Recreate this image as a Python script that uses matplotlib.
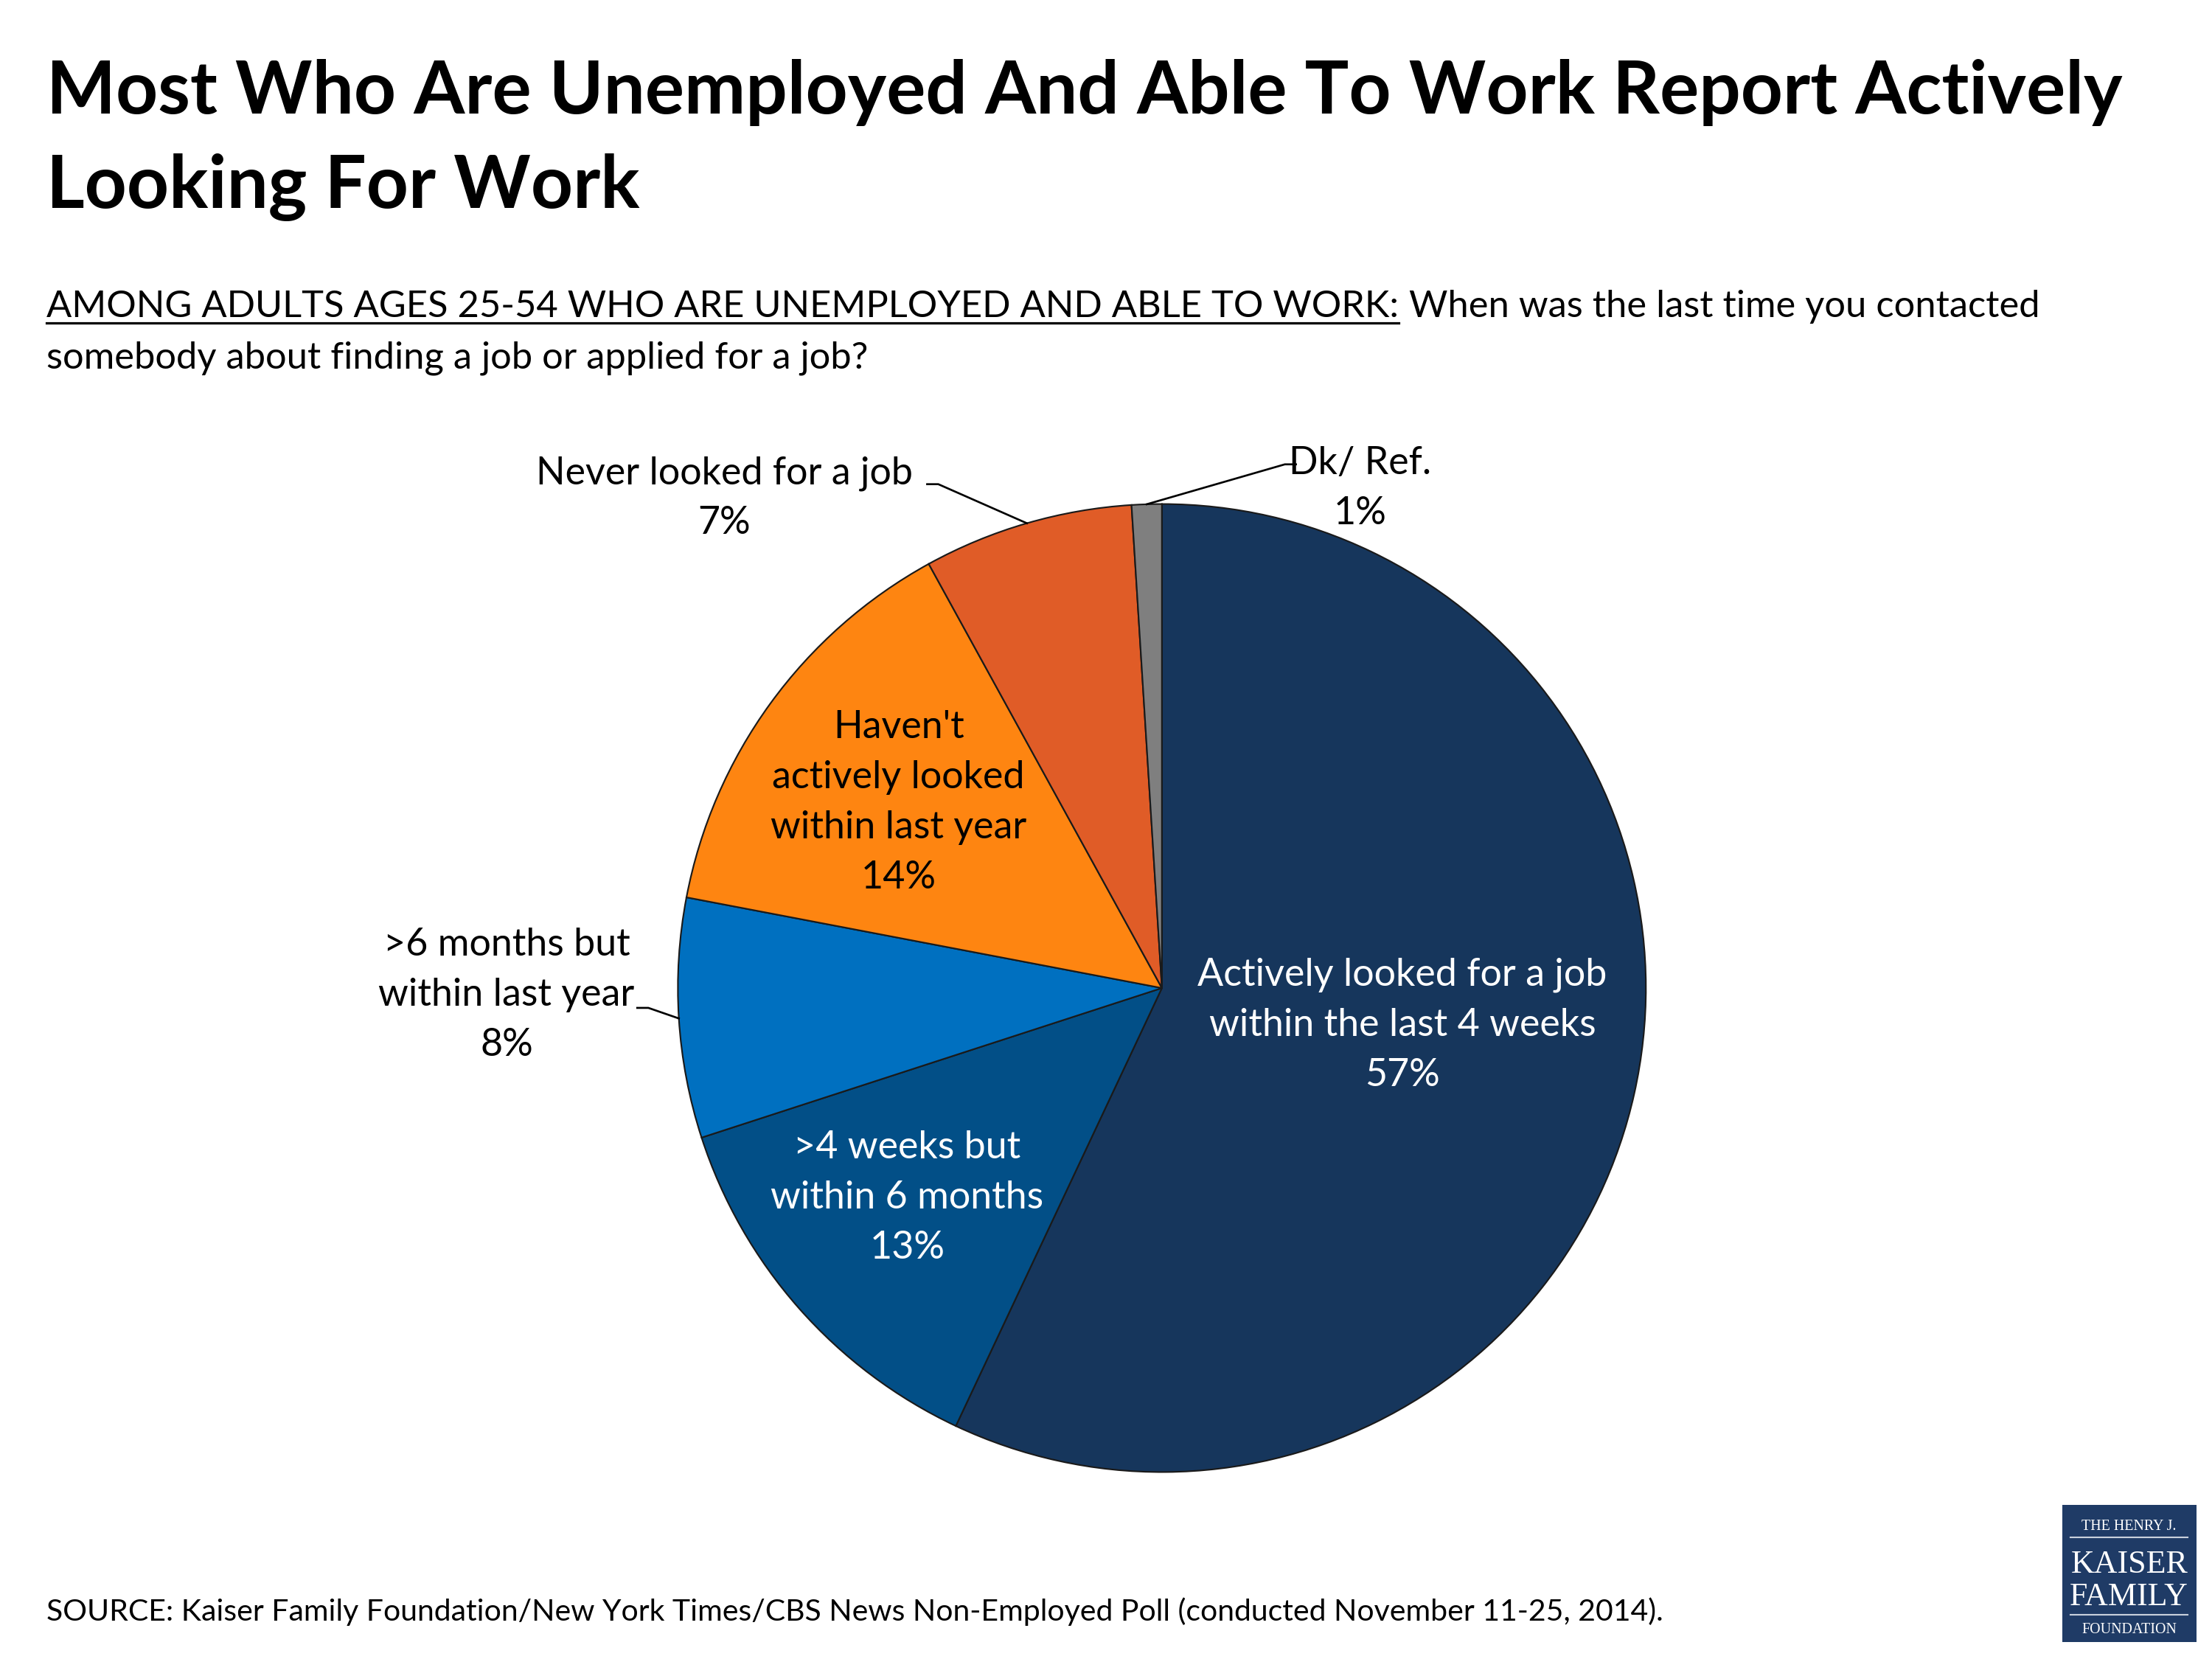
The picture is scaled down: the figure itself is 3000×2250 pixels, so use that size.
import numpy as np
import matplotlib
matplotlib.use("Agg")
import matplotlib.pyplot as plt
from matplotlib.patches import Rectangle

plt.rcParams['font.family'] = ['Lato', 'DejaVu Sans']

# data
categories = ["Actively looked for a job\nwithin the last 4 weeks",
              ">4 weeks but\nwithin 6 months",
              ">6 months but\nwithin last year",
              "Haven't\nactively looked\nwithin last year",
              "Never looked for a job",
              "Dk/ Ref."]
values = [57, 13, 8, 14, 7, 1]
colors = ['#16365C', '#024F87', '#0070C0', '#FE8511', '#E05C27', '#7F7F7F']
text_colors = ['white', 'white', 'black', 'black', 'black', 'black']

# label layout (pie data units, radius 1)
label_pos = [(0.497, -0.076), (-0.526, -0.433), (-1.354, -0.015),
             (-0.544, 0.383), (-0.904, 1.012), (0.41, 1.032)]
# elbow of leader line (None = label inside slice)
elbows = [None, None, (-1.061, -0.041), None, (-0.462, 1.041), (0.254, 1.082)]
elbow_dir = [0, 0, -1, 0, -1, 1]

W, H = 1563.0, 1172.0   # layout units (1 unit = 1/100 in)
fig = plt.figure(figsize=(15.625, 11.71875), dpi=192)


def fx(x):
    return x / W


def fy(y):
    return 1 - y / H


# pie axes: centre (821, 698), radius 342
cx, cy, r = 821, 698, 342
ax = fig.add_axes([fx(cx - r), fy(cy + r), 2 * r / W, 2 * r / H])
wedges, _ = ax.pie(values, colors=colors, startangle=90, counterclock=False,
                   wedgeprops=dict(edgecolor='#1a1a1a', linewidth=0.8))
ax.set_xlim(-1, 1)
ax.set_ylim(-1, 1)
ax.set_aspect('equal')
ax.axis('off')

for i, w in enumerate(wedges):
    txt = categories[i] + "\n" + str(values[i]) + "%"
    x, y = label_pos[i]
    ax.text(x, y, txt, ha='center', va='center', fontsize=19.5,
            color=text_colors[i], linespacing=1.55, clip_on=False)
    if elbows[i] is not None:
        mid = np.deg2rad((w.theta1 + w.theta2) / 2)
        ex, ey = elbows[i]
        px, py = np.cos(mid), np.sin(mid)
        ax.plot([ex + elbow_dir[i] * 0.023, ex, px], [ey, ey, py],
                color='black', lw=1.0, clip_on=False, solid_joinstyle='miter')

# title
fig.text(fx(33), fy(80), "Most Who Are Unemployed And Able To Work Report Actively",
         fontsize=37.3, fontweight='bold', ha='left', va='baseline')
fig.text(fx(33), fy(147), "Looking For Work",
         fontsize=37.3, fontweight='bold', ha='left', va='baseline')

# subtitle with underlined lead-in
lead = fig.text(fx(33), fy(224), "AMONG ADULTS AGES 25-54 WHO ARE UNEMPLOYED AND ABLE TO WORK:",
                fontsize=19, ha='left', va='baseline')
fig.canvas.draw()
bb = lead.get_window_extent().transformed(fig.transFigure.inverted())
fig.add_artist(plt.Line2D([bb.x0, bb.x1], [fy(228), fy(228)], color='black', lw=1.2,
                          transform=fig.transFigure))
fig.text(bb.x1 + fx(7), fy(224), "When was the last time you contacted",
         fontsize=19, ha='left', va='baseline')
fig.text(fx(33), fy(260), "somebody about finding a job or applied for a job?",
         fontsize=19, ha='left', va='baseline')

# source
fig.text(fx(33), fy(1145),
         "SOURCE: Kaiser Family Foundation/New York Times/CBS News Non-Employed Poll (conducted November 11-25, 2014).",
         fontsize=15.4, ha='left', va='baseline')

# logo
lx0, ly0, lx1, ly1 = 1457, 1063, 1552, 1160
fig.add_artist(Rectangle((fx(lx0), fy(ly1)), fx(lx1 - lx0), (ly1 - ly0) / H,
                         transform=fig.transFigure, facecolor='#1F3B66', edgecolor='none'))
lcx = fx((lx0 + lx1) / 2)
serif = ['Liberation Serif', 'DejaVu Serif']
fig.text(lcx, fy(1081), "THE HENRY J.", family=serif, fontsize=7.5, color='white',
         ha='center', va='baseline')
fig.add_artist(plt.Line2D([fx(lx0 + 6), fx(lx1 - 6)], [fy(1086), fy(1086)],
                          color='#c8d0dc', lw=0.8, transform=fig.transFigure))
fig.text(lcx, fy(1111), "KAISER", family=serif, fontsize=16.5, color='white',
         ha='center', va='baseline')
fig.text(lcx, fy(1134), "FAMILY", family=serif, fontsize=16.5, color='white',
         ha='center', va='baseline')
fig.add_artist(plt.Line2D([fx(lx0 + 6), fx(lx1 - 6)], [fy(1141), fy(1141)],
                          color='#c8d0dc', lw=0.8, transform=fig.transFigure))
fig.text(lcx, fy(1154), "FOUNDATION", family=serif, fontsize=7.5, color='white',
         ha='center', va='baseline')

fig.savefig("out.png", dpi=192, facecolor='white')
